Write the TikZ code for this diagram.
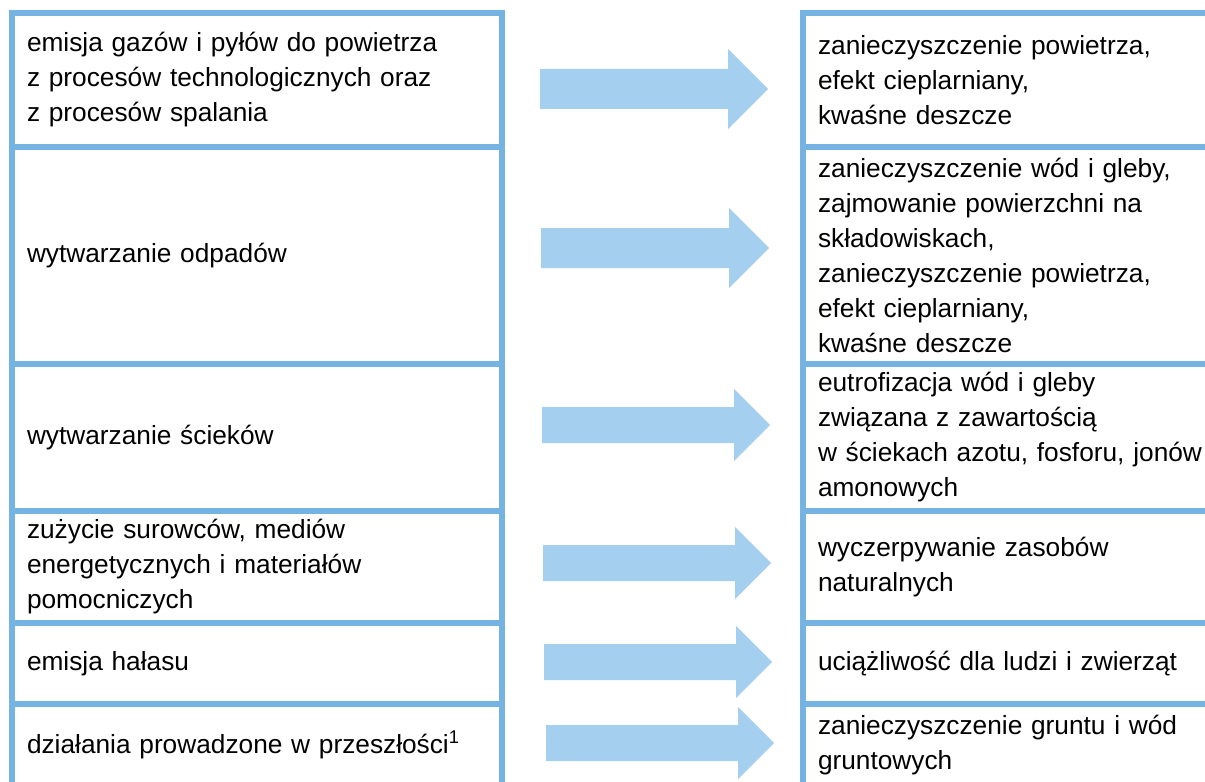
\documentclass[tikz,border=0pt]{standalone}
\usepackage{fontspec}
\setmainfont{Liberation Sans}
\usetikzlibrary{positioning, shapes.arrows}
\definecolor{cframe}{HTML}{75B4E2}
\definecolor{carrow}{HTML}{A5CFEE}
\tikzset{
  every picture/.style={font=\fontsize{19.7}{26.25}\selectfont, line width=4.5pt},
  cell/.style={draw=cframe, line width=4.5pt, align=left, outer sep=0pt, inner xsep=11.25pt, inner ysep=0pt, minimum height=#1},
  lcell/.style={cell=#1, text width=345pt, minimum width=367.5pt},
  rcell/.style={cell=#1, text width=298pt, minimum width=320.5pt},
  fatarrow/.style={single arrow, fill=carrow, draw=none, line width=0pt, anchor=tail, outer sep=0pt, inner xsep=0pt, inner ysep=#1/2, minimum height=171pt, single arrow head extend=#1/2},
  fatarrow/.default=27pt,
}

\begin{document}
\begin{tikzpicture}[x=0.75pt, y=-0.75pt]
  \path[use as bounding box, clip] (0,0) rectangle (1205,781);
  \node[lcell=100.5pt] (e1) at (257,80) {emisja gazów i pyłów do powietrza\\z procesów technologicznych oraz\\z procesów spalania};
  \node[lcell=162.75pt, below=0pt of e1] (e2) {wytwarzanie odpadów};
  \node[lcell=110.25pt, below=0pt of e2] (e3) {wytwarzanie ścieków};
  \node[lcell=84pt, below=0pt of e3] (e4) {zużycie surowców, mediów\\energetycznych i materiałów\\pomocniczych};
  \node[lcell=60.75pt, below=0pt of e4] (e5) {emisja hałasu};
  \node[lcell=61.5pt, below=0pt of e5] (e6) {działania prowadzone w przeszłości\textsuperscript{1}};
  \node[rcell=100.5pt, right=225.75pt of e1] (s1) {zanieczyszczenie powietrza,\\efekt cieplarniany,\\kwaśne deszcze};
  \node[rcell=162.75pt, below=0pt of s1] (s2) {zanieczyszczenie wód i gleby,\\zajmowanie powierzchni na\\składowiskach,\\zanieczyszczenie powietrza,\\efekt cieplarniany,\\kwaśne deszcze};
  \node[rcell=110.25pt, below=0pt of s2] (s3) {eutrofizacja wód i gleby\\związana z zawartością\\w ściekach azotu, fosforu, jonów\\amonowych};
  \node[rcell=84pt, below=0pt of s3] (s4) {wyczerpywanie zasobów\\naturalnych};
  \node[rcell=60.75pt, below=0pt of s4] (s5) {uciążliwość dla ludzi i zwierząt};
  \node[rcell=61.5pt, below=0pt of s5] (s6) {zanieczyszczenie gruntu i wód\\gruntowych};
  \node[fatarrow=30pt] (a1) at (540,89) {};
  \node[fatarrow=30pt] (a2) at (541,248) {};
  \node[fatarrow] (a3) at (542,425) {};
  \node[fatarrow] (a4) at (543,563) {};
  \node[fatarrow] (a5) at (544,662) {};
  \node[fatarrow] (a6) at (546,743) {};
\end{tikzpicture}
\end{document}
